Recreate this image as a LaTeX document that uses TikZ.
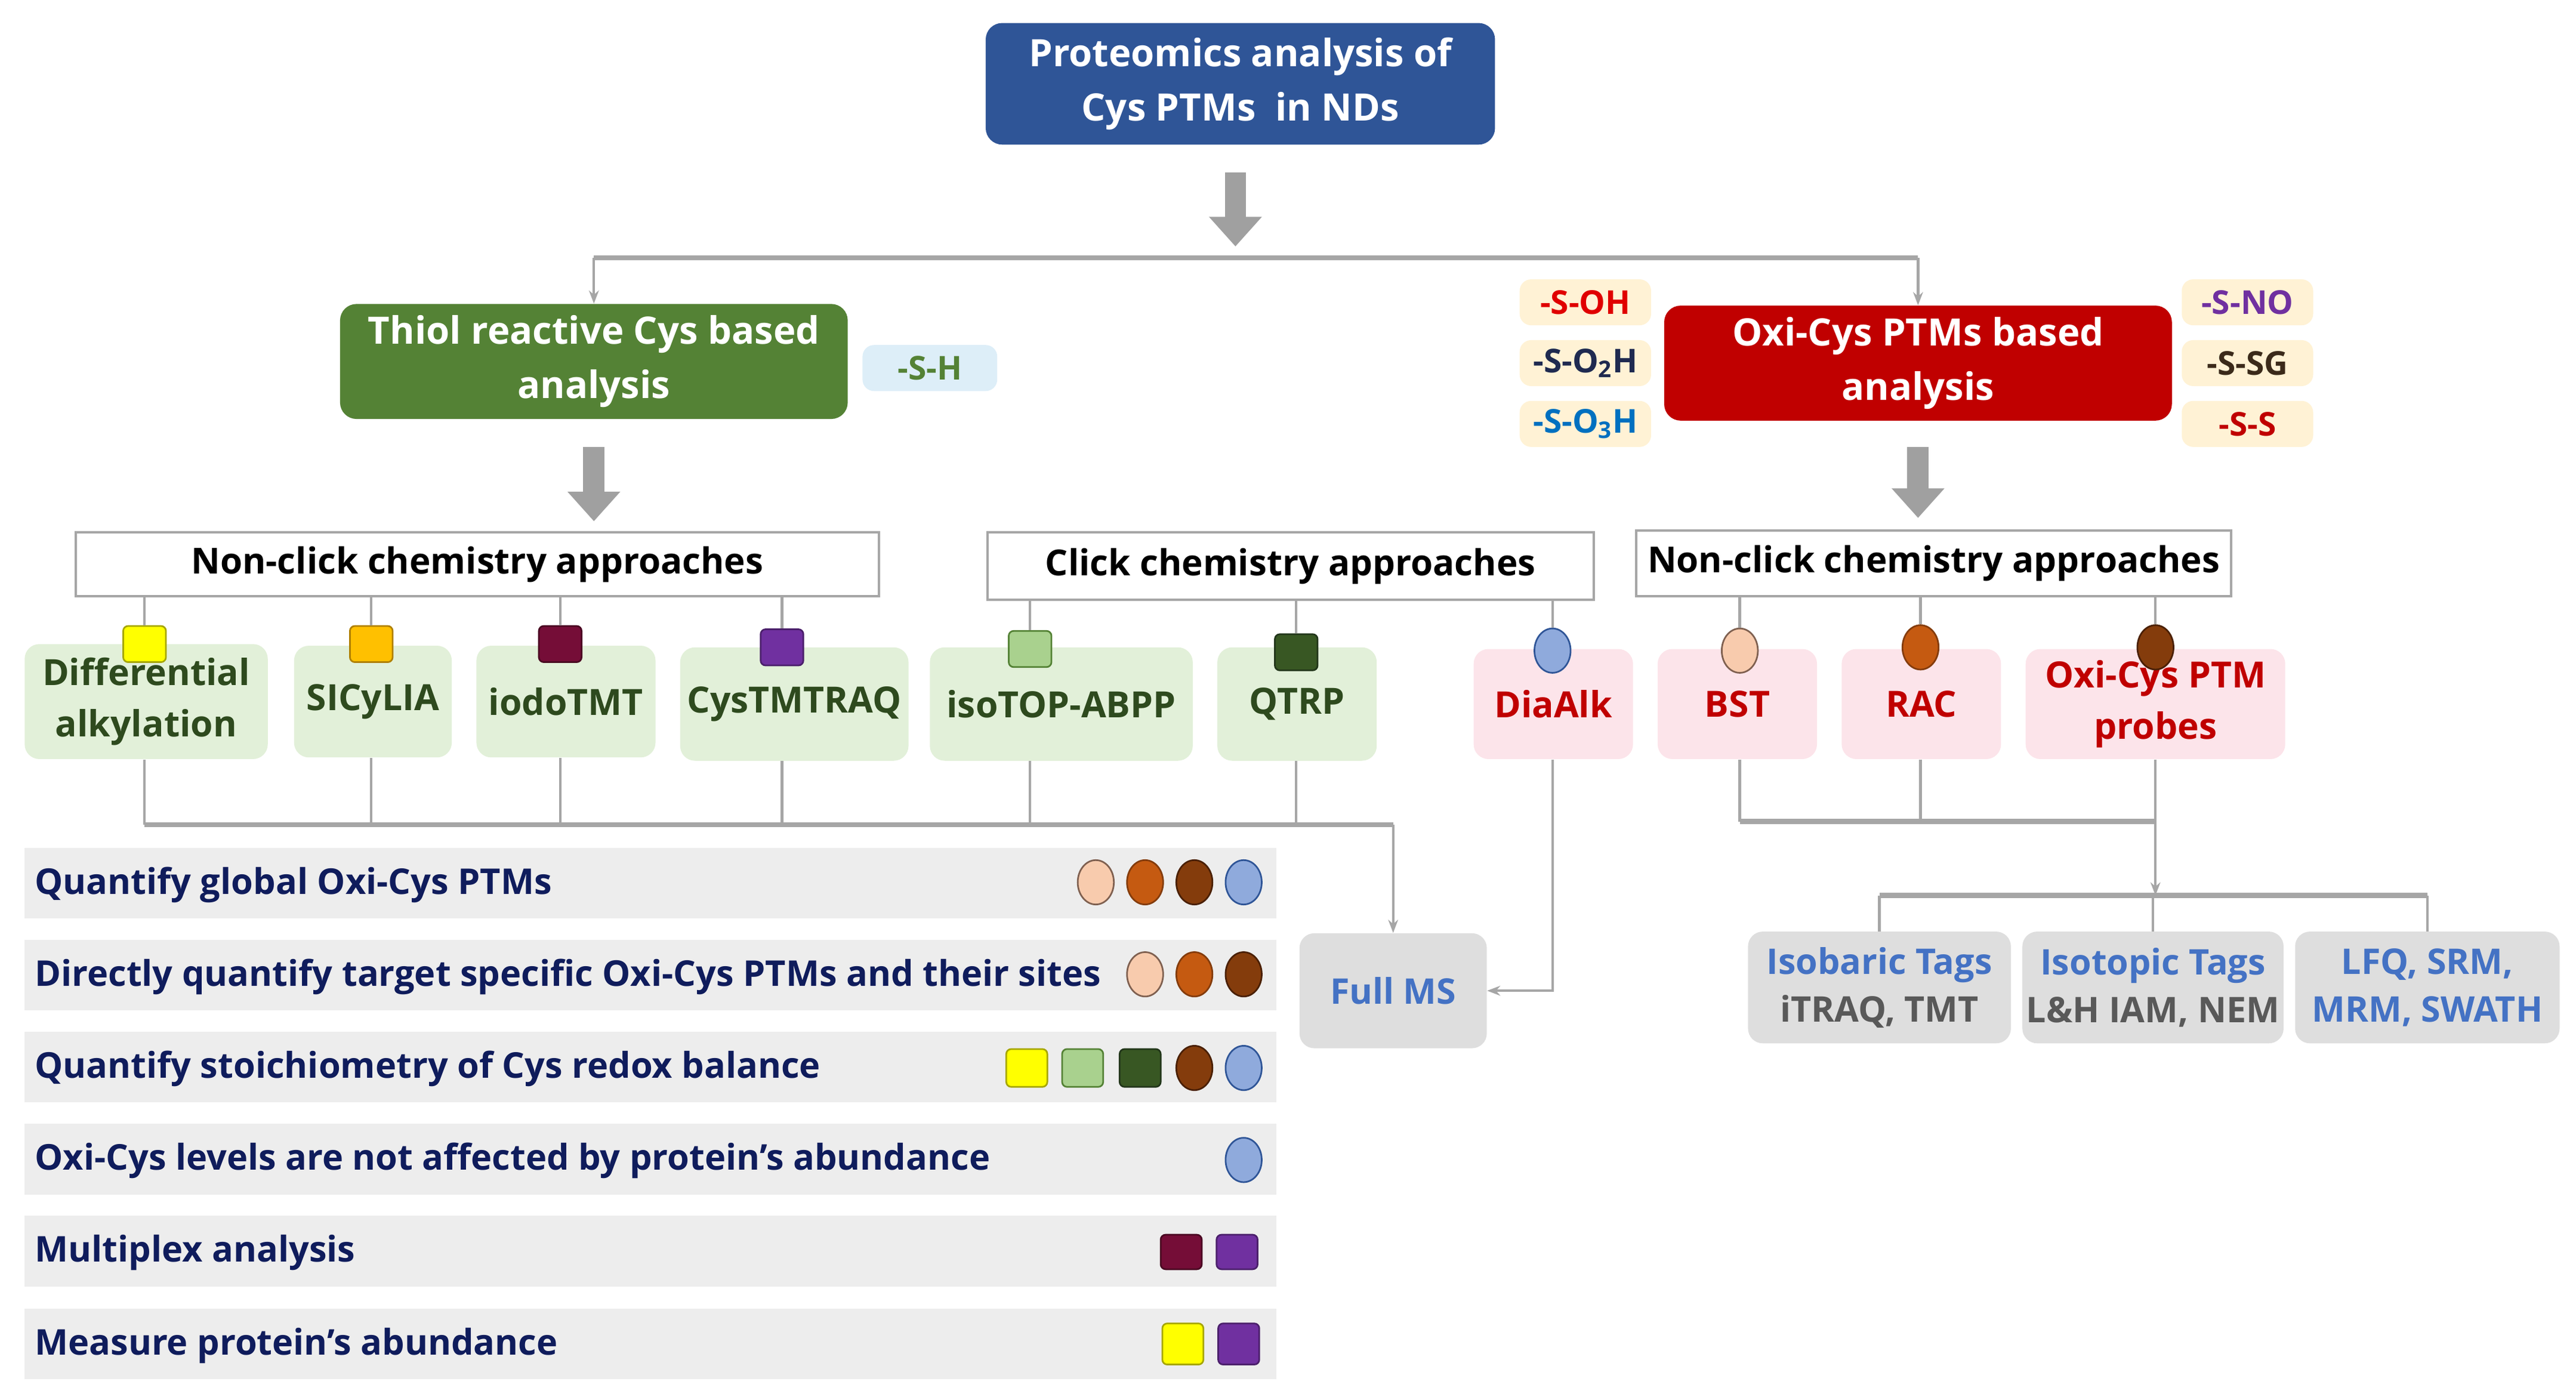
\documentclass[tikz,border=0pt]{standalone}
\usepackage{fontspec}
\setmainfont{Open Sans}
\usetikzlibrary{arrows.meta,shapes.geometric,calc}
\definecolor{titleblue}{HTML}{2F5597}
\definecolor{boxgreen}{HTML}{548235}
\definecolor{boxred}{HTML}{C00000}
\definecolor{linegray}{HTML}{A6A6A6}
\definecolor{arrowgray}{HTML}{A0A0A0}
\definecolor{tagfill}{HTML}{FFF2D5}
\definecolor{shfill}{HTML}{DDEEF8}
\definecolor{itemgreen}{HTML}{E2F0D9}
\definecolor{itempink}{HTML}{FCE4EA}
\definecolor{txtgreen}{HTML}{2E4A1E}
\definecolor{txtred}{HTML}{C00000}
\definecolor{msgray}{HTML}{DEDEDE}
\definecolor{msblue}{HTML}{4472C4}
\definecolor{msdark}{HTML}{595959}
\definecolor{rowgray}{HTML}{EDEDED}
\definecolor{navy}{HTML}{0F1C5C}
\definecolor{tOH}{HTML}{E00000}
\definecolor{tOtwo}{HTML}{1F2A50}
\definecolor{tOthree}{HTML}{0070C0}
\definecolor{tNO}{HTML}{7030A0}
\definecolor{tSG}{HTML}{3B2A1A}
\definecolor{tSS}{HTML}{C00000}
\definecolor{mYellow}{HTML}{FFFF00}
\definecolor{mYellowD}{HTML}{A6A600}
\definecolor{mOrange}{HTML}{FFC000}
\definecolor{mOrangeD}{HTML}{B08000}
\definecolor{mMaroon}{HTML}{750D37}
\definecolor{mMaroonD}{HTML}{4A0822}
\definecolor{mPurple}{HTML}{7030A0}
\definecolor{mPurpleD}{HTML}{4B1F6B}
\definecolor{mLGreen}{HTML}{A9D18E}
\definecolor{mLGreenD}{HTML}{548235}
\definecolor{mDGreen}{HTML}{385723}
\definecolor{mDGreenD}{HTML}{22361A}
\definecolor{mBlue}{HTML}{8FAADC}
\definecolor{mBlueD}{HTML}{2F5597}
\definecolor{mPeach}{HTML}{F8CBAD}
\definecolor{mPeachD}{HTML}{7F6050}
\definecolor{mRust}{HTML}{C55A11}
\definecolor{mRustD}{HTML}{843C0C}
\definecolor{mBrown}{HTML}{843C0C}
\definecolor{mBrownD}{HTML}{4A2005}
\newcommand\myfs[2]{\fontsize{#1}{#2}\selectfont\bfseries}
\begin{document}
\begin{tikzpicture}[x=1pt,y=-1pt,
  conn/.style={draw=linegray, line width=1.6pt},
  trunk/.style={draw=linegray, line width=3pt},
  tip/.style={-{Stealth[length=8pt,width=6pt]}},
  bigarrow/.style={draw=arrowgray, line width=13pt, -{Triangle[length=18pt,width=31pt]}},
  mainbox/.style={rectangle, rounded corners=10pt, text=white, align=center, inner sep=0pt, font=\myfs{23}{33}},
  tagbox/.style={rectangle, rounded corners=7pt, fill=tagfill, inner sep=0pt, minimum width=80pt, minimum height=28pt, font=\myfs{20}{22}},
  header/.style={rectangle, draw=linegray, line width=1.5pt, fill=white, inner sep=0pt, font=\myfs{21.8}{26}},
  gitem/.style={rectangle, rounded corners=9pt, fill=itemgreen, text=txtgreen, align=center, inner sep=0pt, font=\myfs{22}{31}},
  pitem/.style={rectangle, rounded corners=9pt, fill=itempink, text=txtred, align=center, inner sep=0pt, font=\myfs{22}{31}},
  msbox/.style={rectangle, rounded corners=9pt, fill=msgray, align=center, inner sep=0pt, font=\myfs{21.5}{29}},
  rowbox/.style={rectangle, fill=rowgray, minimum width=762pt, minimum height=43pt, inner sep=0pt},
  rowtext/.style={anchor=west, text=navy, inner sep=0pt, font=\myfs{21.6}{26}},
  sq/.style={rectangle, rounded corners=3pt, minimum width=26pt, minimum height=22pt, inner sep=0pt, line width=1pt},
  el/.style={ellipse, minimum width=22pt, minimum height=27pt, inner sep=0pt, line width=1pt},
  yel/.style={sq, fill=mYellow, draw=mYellowD},
  ora/.style={sq, fill=mOrange, draw=mOrangeD},
  mar/.style={sq, fill=mMaroon, draw=mMaroonD},
  pur/.style={sq, fill=mPurple, draw=mPurpleD},
  lgr/.style={sq, fill=mLGreen, draw=mLGreenD},
  dgr/.style={sq, fill=mDGreen, draw=mDGreenD},
  blu/.style={el, fill=mBlue, draw=mBlueD},
  pea/.style={el, fill=mPeach, draw=mPeachD},
  rus/.style={el, fill=mRust, draw=mRustD},
  bro/.style={el, fill=mBrown, draw=mBrownD}
]
\useasboundingbox (0,0) rectangle (1568,852);

% ---------- top level ----------
\node[mainbox, fill=titleblue, minimum width=310pt, minimum height=74pt] (top) at (755,51) {\raisebox{-3pt}{\parbox{300pt}{\centering Proteomics analysis of\\Cys PTMs\ \ in NDs}}};
\node[mainbox, fill=boxgreen, minimum width=309pt, minimum height=70pt] (thiol) at (361.5,220) {Thiol reactive Cys based\\analysis};
\node[mainbox, fill=boxred, minimum width=309pt, minimum height=70pt] (oxi) at (1167.5,221) {Oxi-Cys PTMs based\\analysis};

\coordinate (split) at (752,157);
\draw[bigarrow] (752,105) -- (752,150);
\draw[trunk] (thiol.north |- split) -- (oxi.north |- split);
\draw[conn, tip] (thiol.north |- split) -- (thiol.north);
\draw[conn, tip] (oxi.north |- split) -- (oxi.north);

% ---------- tags ----------
\node[tagbox, fill=shfill, minimum width=82pt, text=boxgreen] (sh) at (566,224) {-S-H};
\node[tagbox, text=tOH] (soh) at (965,184) {-S-OH};
\node[tagbox, text=tOtwo] (so2h) at (965,221) {-S-O\textsubscript{2}H};
\node[tagbox, text=tOthree] (so3h) at (965,258) {-S-O\textsubscript{3}H};
\node[tagbox, text=tNO] (sno) at (1368,184) {-S-NO};
\node[tagbox, text=tSG] (ssg) at (1368,221) {-S-SG};
\node[tagbox, text=tSS] (sss) at (1368,258) {-S-S};

% ---------- headers ----------
\node[header, minimum width=489pt, minimum height=39pt] (hL) at (290.5,343.5) {Non-click chemistry approaches};
\node[header, minimum width=369pt, minimum height=41pt] (hC) at (785.5,344.5) {Click chemistry approaches};
\node[header, minimum width=362pt, minimum height=40pt] (hR) at (1177,343) {Non-click chemistry approaches};

\draw[bigarrow] ([yshift=-17pt]thiol.south) -- ([yshift=6pt]hL.north -| thiol.south);
\draw[bigarrow] ([yshift=-16pt]oxi.south) -- ([yshift=7pt]hR.north -| oxi.south);

% ---------- method items ----------
\node[gitem, minimum width=148pt, minimum height=70pt] (diff) at (89,427) {Differential\\alkylation};
\node[gitem, minimum width=96pt, minimum height=68pt] (sicy) at (227,427) {SICyLIA};
\node[gitem, minimum width=109pt, minimum height=68pt] (iodo) at (344.5,427) {iodoTMT};
\node[gitem, minimum width=139pt, minimum height=69pt] (cys) at (483.5,428.5) {CysTMTRAQ};
\node[gitem, minimum width=160pt, minimum height=69pt] (iso) at (646,428.5) {isoTOP-ABPP};
\node[gitem, minimum width=97pt, minimum height=69pt] (qtrp) at (789.5,428.5) {QTRP};
\node[pitem, minimum width=97pt, minimum height=67pt] (dia) at (945.5,428.5) {DiaAlk};
\node[pitem, minimum width=97pt, minimum height=67pt] (bst) at (1057.5,428.5) {BST};
\node[pitem, minimum width=97pt, minimum height=67pt] (rac) at (1169.5,428.5) {RAC};
\node[pitem, minimum width=158pt, minimum height=67pt] (prb) at (1312,428.5) {Oxi-Cys PTM\\probes};

% markers on items
\node[yel] (mdiff) at (88,392) {};
\node[ora] (msicy) at (226,392) {};
\node[mar] (miodo) at (341,392) {};
\node[pur] (mcys) at (476,394) {};
\node[lgr] (miso) at (627,395) {};
\node[dgr] (mqtrp) at (789,397) {};
\node[blu] (mdia) at (945,396) {};
\node[pea] (mbst) at (1059,396) {};
\node[rus] (mrac) at (1169,394) {};
\node[bro] (mprb) at (1312,394) {};

\foreach \m/\h in {mdiff/hL, msicy/hL, miodo/hL, mcys/hL, miso/hC, mqtrp/hC, mdia/hC, mbst/hR, mrac/hR, mprb/hR}
  \draw[conn] (\m |- \h.south) -- (\m.north);

% ---------- Full MS ----------
\node[msbox, text=msblue, minimum width=114pt, minimum height=70pt] (fullms) at (848,603) {Full MS};
\coordinate (trunkL) at (848,502);
\foreach \m/\b in {mdiff/diff, msicy/sicy, miodo/iodo, mcys/cys, miso/iso, mqtrp/qtrp}
  \draw[conn] (\m |- \b.south) -- (\m |- trunkL);
\draw[trunk] (mdiff |- trunkL) -- (trunkL);
\draw[conn, tip] (trunkL) -- (fullms.north);
\draw[conn, tip] (mdia |- dia.south) -- (mdia |- fullms.east) -- (fullms.east);

% ---------- right quantification ----------
\node[msbox, minimum width=160pt, minimum height=68pt] (isob) at (1144,601) {\textcolor{msblue}{Isobaric Tags}\\\textcolor{msdark}{iTRAQ, TMT}};
\node[msbox, minimum width=159pt, minimum height=68pt] (isot) at (1310.5,601) {\textcolor{msblue}{Isotopic Tags}\\\textcolor{msdark}{L\&H IAM, NEM}};
\node[msbox, text=msblue, minimum width=161pt, minimum height=68pt] (lfq) at (1477.5,601) {LFQ, SRM,\\MRM, SWATH};

\coordinate (trunkR) at (1312,500);
\coordinate (trunkQ) at (1312,545);
\foreach \m/\b in {mbst/bst, mrac/rac, mprb/prb}
  \draw[conn] (\m |- \b.south) -- (\m |- trunkR);
\draw[trunk] (mbst |- trunkR) -- (trunkR);
\draw[conn, tip] (trunkR) -- (trunkQ);
\draw[trunk] (isob.north |- trunkQ) -- (lfq.north |- trunkQ);
\foreach \b in {isob, isot, lfq}
  \draw[conn] (\b.north |- trunkQ) -- (\b.north);

% ---------- feature table ----------
\node[rowbox] (r1) at (396,537.5) {};
\node[rowbox] (r2) at (396,593.5) {};
\node[rowbox] (r3) at (396,649.5) {};
\node[rowbox] (r4) at (396,705.5) {};
\node[rowbox] (r5) at (396,761.5) {};
\node[rowbox] (r6) at (396,818) {};
\node[rowtext] (t1) at (21,538.5) {Quantify global Oxi-Cys PTMs};
\node[rowtext] (t2) at (21,594.5) {Directly quantify target specific Oxi-Cys PTMs and their sites};
\node[rowtext] (t3) at (21,650.5) {Quantify stoichiometry of Cys redox balance};
\node[rowtext] (t4) at (21,706.5) {Oxi-Cys levels are not affected by protein’s abundance};
\node[rowtext] (t5) at (21,762.5) {Multiplex analysis};
\node[rowtext] (t6) at (21,819) {Measure protein’s abundance};

\node[pea] (a1) at (667,537) {};
\node[rus] (a2) at (697,537) {};
\node[bro] (a3) at (727,537) {};
\node[blu] (a4) at (757,537) {};
\node[pea] (b1) at (697,593) {};
\node[rus] (b2) at (727,593) {};
\node[bro] (b3) at (757,593) {};
\node[yel, minimum width=25pt, minimum height=23pt] (c1) at (625,650) {};
\node[lgr, minimum width=25pt, minimum height=23pt] (c2) at (659,650) {};
\node[dgr, minimum width=25pt, minimum height=23pt] (c3) at (694,650) {};
\node[bro] (c4) at (727,650) {};
\node[blu] (c5) at (757,650) {};
\node[blu] (d1) at (757,706) {};
\node[mar, minimum width=25pt, minimum height=21pt] (e1) at (719,762) {};
\node[pur, minimum width=25pt, minimum height=21pt] (e2) at (753,762) {};
\node[yel, minimum width=25pt, minimum height=25pt] (f1) at (720,818) {};
\node[pur, minimum width=25pt, minimum height=25pt] (f2) at (754,818) {};
\end{tikzpicture}
\end{document}
